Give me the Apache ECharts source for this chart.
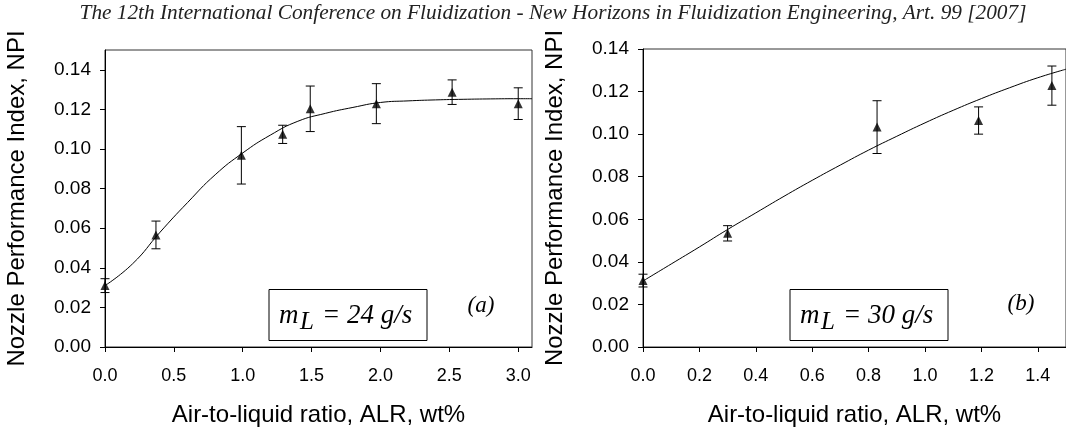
<!DOCTYPE html>
<html>
<head>
<meta charset="utf-8">
<script src="https://cdn.jsdelivr.net/npm/echarts@6/dist/echarts.min.js"></script>
<style>html,body{margin:0;padding:0;background:#fff}#c{width:1066px;height:432px}</style>
</head>
<body>
<div id="c"></div>
<script>
// ---- Data (a): m_L = 24 g/s ----
const aX   = [0, 0.37, 0.99, 1.29, 1.49, 1.97, 2.52, 3.0];
const aY   = [0.031, 0.0566, 0.0968, 0.1074, 0.1203, 0.1229, 0.1287, 0.1229];
const aErr = [0.0035, 0.007, 0.0145, 0.0046, 0.0115, 0.0101, 0.0062, 0.008];
const aFitX = [0, 0.2, 0.4, 0.6, 0.8, 1.0, 1.2, 1.4, 1.6, 1.8, 2.0, 2.2, 2.4, 2.6, 2.8, 3.0, 3.1];
const aFitY = [0.031, 0.042, 0.058, 0.073, 0.087, 0.098, 0.107, 0.114, 0.118, 0.121, 0.1235, 0.1243, 0.1248, 0.1251, 0.1253, 0.1254, 0.1254];
// ---- Data (b): m_L = 30 g/s ----
const bX   = [0, 0.30, 0.83, 1.19, 1.45];
const bY   = [0.0312, 0.0534, 0.1033, 0.1064, 0.1228];
const bErr = [0.003, 0.0036, 0.0124, 0.0064, 0.0092];
const bFitX = [0, 0.1, 0.2, 0.3, 0.4, 0.5, 0.6, 0.7, 0.8, 0.9, 1.0, 1.1, 1.2, 1.3, 1.4, 1.5];
const bFitY = [0.031, 0.039, 0.047, 0.0552, 0.063, 0.0708, 0.0783, 0.0855, 0.0925, 0.099, 0.1053, 0.1112, 0.1167, 0.1218, 0.1265, 0.1305];
// ---- Tick labels ----
const yTicks  = [0, 0.02, 0.04, 0.06, 0.08, 0.10, 0.12, 0.14];
const aXTicks = [0, 0.5, 1.0, 1.5, 2.0, 2.5, 3.0];
const bXTicks = [0, 0.2, 0.4, 0.6, 0.8, 1.0, 1.2, 1.4];
// ---- Texts ----
const pageTitle = 'The 12th International Conference on Fluidization - New Horizons in Fluidization Engineering, Art. 99 [2007]';
const xName = 'Air-to-liquid ratio, ALR, wt%';
const yName = 'Nozzle Performance Index, NPI';
const boxA = '= 24 g/s', boxB = '= 30 g/s';

const sans = 'Liberation Sans';
const serif = 'Liberation Serif';
const pair = (xs, ys) => xs.map((x, i) => [x, ys[i]]);
const errData = (xs, ys, es) => xs.map((x, i) => [x, ys[i] - es[i], ys[i] + es[i]]);

function errItem(params, api) {
  const x = api.value(0);
  const lo = api.coord([x, api.value(1)]);
  const hi = api.coord([x, api.value(2)]);
  const w = 4.5;
  const st = { stroke: '#000', lineWidth: 1 };
  return { type: 'group', children: [
    { type: 'line', shape: { x1: lo[0], y1: lo[1], x2: hi[0], y2: hi[1] }, style: st },
    { type: 'line', shape: { x1: lo[0] - w, y1: lo[1], x2: lo[0] + w, y2: lo[1] }, style: st },
    { type: 'line', shape: { x1: hi[0] - w, y1: hi[1], x2: hi[0] + w, y2: hi[1] }, style: st }
  ]};
}

function xAxis(idx, max, ticks) {
  return {
    type: 'value', gridIndex: idx, min: 0, max: max,
    name: xName, nameLocation: 'middle', nameGap: 56,
    nameTextStyle: { fontFamily: sans, fontSize: 24, color: '#000' },
    axisLine: { show: true, onZero: false, lineStyle: { color: '#000', width: 1 } },
    axisTick: { show: true, inside: false, length: 5, customValues: ticks, lineStyle: { color: '#000' } },
    axisLabel: { customValues: ticks, margin: 20, fontFamily: sans, fontSize: 18, color: '#000',
      formatter: v => v.toFixed(1) },
    splitLine: { show: false }
  };
}
function yAxis(idx, max) {
  return {
    type: 'value', gridIndex: idx, min: 0, max: max,
    name: yName, nameLocation: 'middle', nameGap: 76, nameRotate: 90,
    nameTextStyle: { fontFamily: sans, fontSize: 24, color: '#000' },
    axisLine: { show: true, onZero: false, lineStyle: { color: '#000', width: 1 } },
    axisTick: { show: true, inside: false, length: 5, customValues: yTicks, lineStyle: { color: '#000' } },
    axisLabel: { customValues: yTicks, margin: 14, fontFamily: sans, fontSize: 19, color: '#000',
      formatter: v => v.toFixed(2) },
    splitLine: { show: false }
  };
}

function txt(x, y, text, size, align) {
  return { type: 'text', x: x, y: y, z: 101,
    style: { text: text, fontFamily: serif, fontStyle: 'italic', fontSize: size, fill: '#000',
      align: align || 'left', verticalAlign: 'middle' } };
}
function legendBox(x0, x1, label) {
  return [
    { type: 'rect', shape: { x: x0, y: 289.5, width: x1 - x0, height: 51 },
      style: { fill: '#fff', stroke: '#000', lineWidth: 1 }, z: 100 },
    txt(x0 + 10, 316, 'm', 27),
    txt(x0 + 31, 322, 'L', 25),
    txt(x0 + 53, 316, label, 27)
  ];
}

const chart = echarts.init(document.getElementById('c'), null, { renderer: 'canvas' });
chart.setOption({
  backgroundColor: '#fff',
  animation: false,
  grid: [
    { left: 105, top: 50, right: 534, bottom: 85, show: true, borderColor: '#333', borderWidth: 1, containLabel: false },
    { left: 643, top: 49, right: -7, bottom: 85, show: true, borderColor: '#333', borderWidth: 1, containLabel: false }
  ],
  xAxis: [ xAxis(0, 3.1, aXTicks), xAxis(1, 1.5, bXTicks) ],
  yAxis: [ yAxis(0, 0.15), yAxis(1, 0.14) ],
  series: [
    { type: 'line', xAxisIndex: 0, yAxisIndex: 0, data: pair(aFitX, aFitY), smooth: true, showSymbol: false,
      lineStyle: { color: '#000', width: 1 }, z: 2 },
    { type: 'custom', xAxisIndex: 0, yAxisIndex: 0, data: errData(aX, aY, aErr), renderItem: errItem, z: 3 },
    { type: 'scatter', xAxisIndex: 0, yAxisIndex: 0, data: pair(aX, aY), symbol: 'triangle', symbolSize: 9,
      itemStyle: { color: '#000' }, z: 4 },
    { type: 'line', xAxisIndex: 1, yAxisIndex: 1, data: pair(bFitX, bFitY), smooth: true, showSymbol: false,
      lineStyle: { color: '#000', width: 1 }, z: 2 },
    { type: 'custom', xAxisIndex: 1, yAxisIndex: 1, data: errData(bX, bY, bErr), renderItem: errItem, z: 3 },
    { type: 'scatter', xAxisIndex: 1, yAxisIndex: 1, data: pair(bX, bY), symbol: 'triangle', symbolSize: 9,
      itemStyle: { color: '#000' }, z: 4 }
  ],
  graphic: [
    { type: 'text', x: 553, y: 13, z: 100,
      style: { text: pageTitle, fontFamily: serif, fontStyle: 'italic', fontSize: 21.3, fill: '#222',
        align: 'center', verticalAlign: 'middle' } },
    ...legendBox(269, 427, boxA),
    ...legendBox(790, 948, boxB),
    txt(481, 306, '(a)', 23, 'center'),
    txt(1021, 304, '(b)', 23, 'center')
  ]
});
</script>
</body>
</html>
